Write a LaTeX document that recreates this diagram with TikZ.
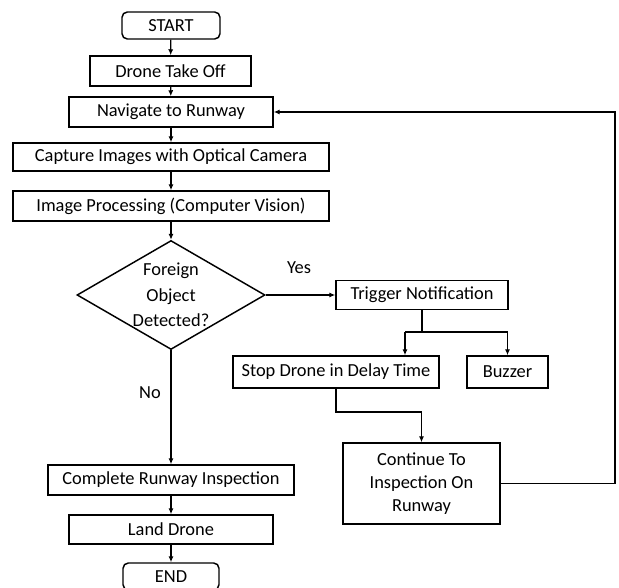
\documentclass[tikz,border=0pt]{standalone}
\usepackage{fontspec}
\setmainfont{Carlito}
\usetikzlibrary{shapes.geometric,arrows.meta}
\begin{document}
\begin{tikzpicture}[x=0.75pt,y=-0.75pt,
  font=\fontsize{13.8pt}{17pt}\selectfont,
  box/.style={draw=black,line width=1.1pt,inner sep=0pt,align=center},
  term/.style={box,rounded corners=4pt},
  decision/.style={draw=black,line width=1.1pt,shape=diamond,inner sep=0pt,align=center,aspect=1.72,
    font=\fontsize{13.8pt}{19pt}\selectfont},
  conn/.style={draw=black,line width=0.9pt,-{Latex[length=4.5pt,width=3.8pt]}},
  plain/.style={draw=black,line width=0.9pt},
  lbl/.style={inner sep=0pt}]
\clip (0,0) rectangle (619,588);
\fill[white] (0,0) rectangle (619,588);

\node[term,minimum width=73.5pt,minimum height=20.25pt] (start) at (171,25.5) {START};
\node[box,minimum width=120.75pt,minimum height=22.5pt] (takeoff) at (170.5,71) {Drone Take Off};
\node[box,minimum width=153pt,minimum height=22.5pt] (nav) at (171,112) {Navigate to Runway};
\node[box,minimum width=237pt,minimum height=21pt] (capture) at (171,157) {Capture Images with Optical Camera};
\node[box,minimum width=237pt,minimum height=22.5pt] (proc) at (171,206) {Image Processing (Computer Vision)};
\node[decision,minimum width=141pt,minimum height=81.75pt] (dec) at (171,295) {Foreign\\Object\\Detected?};
\node[box,minimum width=129pt,minimum height=21.75pt] (trig) at (422,295) {Trigger Notification};
\node[box,minimum width=154.5pt,minimum height=24pt] (stop) at (336,372) {Stop Drone in Delay Time};
\node[box,minimum width=60.75pt,minimum height=24pt] (buzz) at (507.5,372) {Buzzer};
\node[box,minimum width=117.75pt,minimum height=60.75pt] (cont) at (421.5,483.5) {Continue To\\Inspection On\\Runway};
\node[box,minimum width=184.5pt,minimum height=22.5pt] (complete) at (171,480) {Complete Runway Inspection};
\node[box,minimum width=153pt,minimum height=21.75pt] (land) at (171,529.5) {Land Drone};
\node[term,minimum width=72pt,minimum height=20.25pt] (end) at (171,576.5) {END};

\node[lbl] (yes) at (299,268) {Yes};
\node[lbl] (no) at (150,393) {No};

\coordinate (split) at (422,332);
\coordinate (splitL) at (405,332);
\coordinate (splitR) at (507.5,332);
\coordinate (bend) at (336,412);
\coordinate (bend2) at (421.5,412);
\coordinate (loopA) at (615,483.5);
\coordinate (loopB) at (615,112);

\draw[conn] (start) -- (takeoff);
\draw[conn] (takeoff) -- (nav);
\draw[conn] (nav) -- (capture);
\draw[conn] (capture) -- (proc);
\draw[conn] (proc) -- (dec.north);
\draw[conn] (dec.east) -- (trig.west);
\draw[conn] (dec.south) -- (complete.north);
\draw[conn] (complete) -- (land);
\draw[conn] (land) -- (end);

\draw[plain] (trig.south) -- (split);
\draw[plain] (splitL) -- (splitR);
\draw[conn] (splitL) -- (splitL |- stop.north);
\draw[conn] (splitR) -- (buzz.north);
\draw[plain] (stop.south) -- (bend) -- (bend2);
\draw[conn] (bend2) -- (cont.north);
\draw[conn] (cont.east) -- (loopA) -- (loopB) -- (nav.east);
\end{tikzpicture}
\end{document}
